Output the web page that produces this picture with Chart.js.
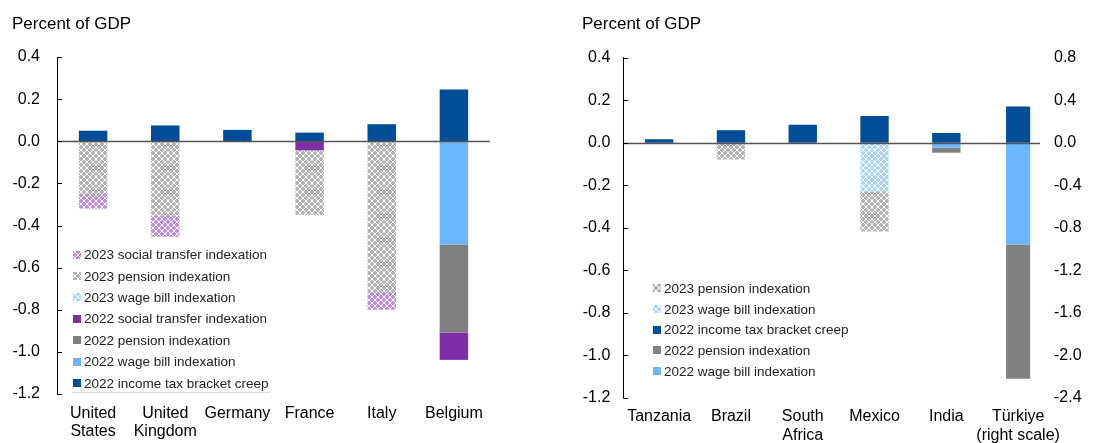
<!DOCTYPE html>
<html><head><meta charset="utf-8">
<script src="https://cdn.jsdelivr.net/npm/chart.js@4.4.1/dist/chart.umd.min.js"></script>
<style>
html,body{margin:0;padding:0;background:#fff;}
#w1{position:absolute;left:0;top:0;width:560px;height:443px;}
#w2{position:absolute;left:560px;top:0;width:558px;height:443px;}
</style>
</head><body>
<div id="w1"><canvas id="c1" width="560" height="443"></canvas></div>
<div id="w2"><canvas id="c2" width="558" height="443"></canvas></div>
<script>
// ---------- DATA (percent of GDP) ----------
const advCategories = [["United","States"],["United","Kingdom"],"Germany","France","Italy","Belgium"];
const advIncomeTax2022 = [0.050, 0.075, 0.054, 0.041, 0.081, 0.246];
const advWageBill2022  = [null, null, null, null, null, -0.490];
const advPension2022   = [null, null, null, null, null, -0.418];
const advSocial2022    = [null, null, null, -0.043, null, -0.130];
const advWageBill2023  = [null, null, null, null, null, null];
const advPension2023   = [-0.250, -0.354, null, -0.307, -0.713, null];
const advSocial2023    = [-0.070, -0.100, null, null, -0.087, null];

const emCategories = ["Tanzania","Brazil",["South","Africa"],"Mexico","India",["Türkiye","(right scale)"]];
const emIncomeTax2022 = [0.016, 0.059, 0.084, 0.126, 0.046, null];
const emWageBill2022  = [null, null, null, null, -0.024, null];
const emPension2022   = [null, null, null, null, -0.023, null];
const emWageBill2023  = [null, null, null, -0.232, null, null];
const emPension2023   = [null, -0.079, null, -0.186, null, null];
// Türkiye, read on the right scale
const trIncomeTax2022 = [null, null, null, null, null, 0.34];
const trWageBill2022  = [null, null, null, null, null, -0.958];
const trPension2022   = [null, null, null, null, null, -1.264];

const leftTicks  = [-1.2, -1.0, -0.8, -0.6, -0.4, -0.2, 0.0, 0.2, 0.4];
const rightTicks = [-2.4, -2.0, -1.6, -1.2, -0.8, -0.4, 0.0, 0.4, 0.8];

const lblIncome = "2022 income tax bracket creep";
const lblWage22 = "2022 wage bill indexation";
const lblPens22 = "2022 pension indexation";
const lblSoc22  = "2022 social transfer indexation";
const lblWage23 = "2023 wage bill indexation";
const lblPens23 = "2023 pension indexation";
const lblSoc23  = "2023 social transfer indexation";

// ---------- STYLE ----------
const FONT = "'Liberation Sans', Arial, Helvetica, sans-serif";
Chart.defaults.font.family = FONT;
Chart.defaults.color = '#000';

function makePattern(color){
  const rows = ["CC..CC","C.CC.C",".CCCC.",".CCCC.","C.CC.C","CC..CC"];
  const t = document.createElement('canvas'); t.width = 6; t.height = 6;
  const g = t.getContext('2d');
  g.fillStyle = '#fff'; g.fillRect(0,0,6,6);
  g.fillStyle = color;
  rows.forEach((r,y)=>{ for(let x=0;x<6;x++){ if(r[x]==='C') g.fillRect(x,y,1,1); } });
  return g.createPattern(t,'repeat');
}
const cIncome = '#014D98';
const cWage22 = '#6CB6FF';
const cPens22 = '#808080';
const cSoc22  = '#7E2FA8';
const pWage23 = makePattern('#a9d5ff');
const pPens23 = makePattern('#b3b3b3');
const pSoc23  = makePattern('#c08ce6');

function ds(label, data, color, extra){
  return Object.assign({label, data, backgroundColor: color, borderWidth: 0,
    categoryPercentage: 0.395, barPercentage: 1.0, xAxisID:'x', yAxisID:'y'}, extra||{});
}

const decoPlugin = {
  id: 'deco',
  afterDatasetsDraw(chart, args, o){
    const ctx = chart.ctx, ca = chart.chartArea, y = chart.scales.y;
    ctx.save();
    const y0 = Math.round(y.getPixelForValue(0)) + 0.5;
    ctx.strokeStyle = '#555'; ctx.lineWidth = 1.6;
    ctx.beginPath(); ctx.moveTo(ca.left, y0); ctx.lineTo(o.zeroEnd != null ? o.zeroEnd : ca.right, y0); ctx.stroke();
    ctx.strokeStyle = '#000'; ctx.lineWidth = 1;
    y.ticks.forEach(t=>{
      const py = Math.round(y.getPixelForValue(t.value)) + 0.5;
      ctx.beginPath(); ctx.moveTo(ca.left, py); ctx.lineTo(ca.left + 5, py); ctx.stroke();
    });
    ctx.restore();
  },
  afterDraw(chart, args, o){
    const ctx = chart.ctx;
    ctx.save();
    ctx.font = '17px ' + FONT; ctx.fillStyle = '#000'; ctx.textBaseline = 'alphabetic';
    ctx.fillText('Percent of GDP', o.titleX, 29);
    ctx.font = '13.5px ' + FONT; ctx.textBaseline = 'middle';
    o.legend.forEach((it, i)=>{
      const cy = o.legY + i * o.legDy;
      ctx.fillStyle = it.fill;
      ctx.fillRect(o.legX, Math.round(cy - 4), 8, 8);
      ctx.fillStyle = '#222';
      ctx.fillText(it.label, o.legX + 11, cy + 1);
    });
    if (o.legLine){
      ctx.strokeStyle = '#ddd'; ctx.lineWidth = 1;
      ctx.beginPath(); ctx.moveTo(o.legLine[0], o.legLine[2] + 0.5); ctx.lineTo(o.legLine[1], o.legLine[2] + 0.5); ctx.stroke();
    }
    ctx.restore();
  }
};

function xScale(h){
  return {type:'category', stacked:true, grid:{display:false, drawTicks:false}, border:{display:false},
    ticks:{padding:10, color:'#000', font:{size:16, lineHeight:1.15}, maxRotation:0, autoSkip:false},
    afterFit(s){ s.height = h; }};
}
function yScale(min, max, ticks, w, pad, pos){
  return {type:'linear', position: pos, stacked:true, min, max,
    grid:{display:false, drawTicks:false},
    border:{display: pos === 'left', color:'#000', width:1},
    afterBuildTicks(s){ s.ticks = ticks.map(v=>({value:v})); },
    ticks:{padding:pad, color:'#000', font:{size:16}, callback:(v)=> (Math.abs(v)<1e-9 ? 0 : v).toFixed(1)},
    afterFit(s){ s.width = w; }};
}

// ---------- LEFT CHART ----------
new Chart(document.getElementById('c1'), {
  type:'bar',
  data:{ labels: advCategories, datasets:[
    ds(lblIncome, advIncomeTax2022, cIncome),
    ds(lblWage22, advWageBill2022, cWage22),
    ds(lblPens22, advPension2022, cPens22),
    ds(lblSoc22,  advSocial2022,  cSoc22),
    ds(lblWage23, advWageBill2023, pWage23),
    ds(lblPens23, advPension2023, pPens23),
    ds(lblSoc23,  advSocial2023,  pSoc23)
  ]},
  options:{
    responsive:false, devicePixelRatio:1, animation:false,
    layout:{padding:{top:57, right:70, left:0, bottom:0}},
    scales:{ x: xScale(49), y: yScale(-1.2, 0.4, leftTicks, 57, 17, 'left') },
    plugins:{ legend:{display:false}, tooltip:{enabled:false},
      deco:{ titleX:12, legX:73, legY:254.5, legDy:21.4,
        legLine:[72, 270, 392],
        legend:[
          {label:lblSoc23, fill:pSoc23},{label:lblPens23, fill:pPens23},{label:lblWage23, fill:pWage23},
          {label:lblSoc22, fill:cSoc22},{label:lblPens22, fill:cPens22},{label:lblWage22, fill:cWage22},
          {label:lblIncome, fill:cIncome}
        ]}
    }
  },
  plugins:[decoPlugin]
});

// ---------- RIGHT CHART ----------
new Chart(document.getElementById('c2'), {
  type:'bar',
  data:{ labels: emCategories, datasets:[
    ds(lblIncome, emIncomeTax2022, cIncome),
    ds(lblWage22, emWageBill2022, cWage22),
    ds(lblPens22, emPension2022, cPens22),
    ds(lblWage23, emWageBill2023, pWage23),
    ds(lblPens23, emPension2023, pPens23),
    ds(lblIncome, trIncomeTax2022, cIncome, {yAxisID:'y2', barPercentage:0.85}),
    ds(lblWage22, trWageBill2022, cWage22, {yAxisID:'y2', barPercentage:0.85}),
    ds(lblPens22, trPension2022, cPens22, {yAxisID:'y2', barPercentage:0.85})
  ]},
  options:{
    responsive:false, devicePixelRatio:1, animation:false,
    layout:{padding:{top:57.7, right:0, left:0, bottom:0}},
    scales:{ x: xScale(45.3),
      y: yScale(-1.2, 0.4, leftTicks, 63.3, 13, 'left'),
      y2: yScale(-2.4, 0.8, rightTicks, 64, 0, 'right') },
    plugins:{ legend:{display:false}, tooltip:{enabled:false},
      deco:{ titleX:22, zeroEnd:480, legX:93, legY:288, legDy:20.8,
        legend:[
          {label:lblPens23, fill:pPens23},{label:lblWage23, fill:pWage23},{label:lblIncome, fill:cIncome},
          {label:lblPens22, fill:cPens22},{label:lblWage22, fill:cWage22}
        ]}
    }
  },
  plugins:[decoPlugin]
});
</script>
</body></html>
